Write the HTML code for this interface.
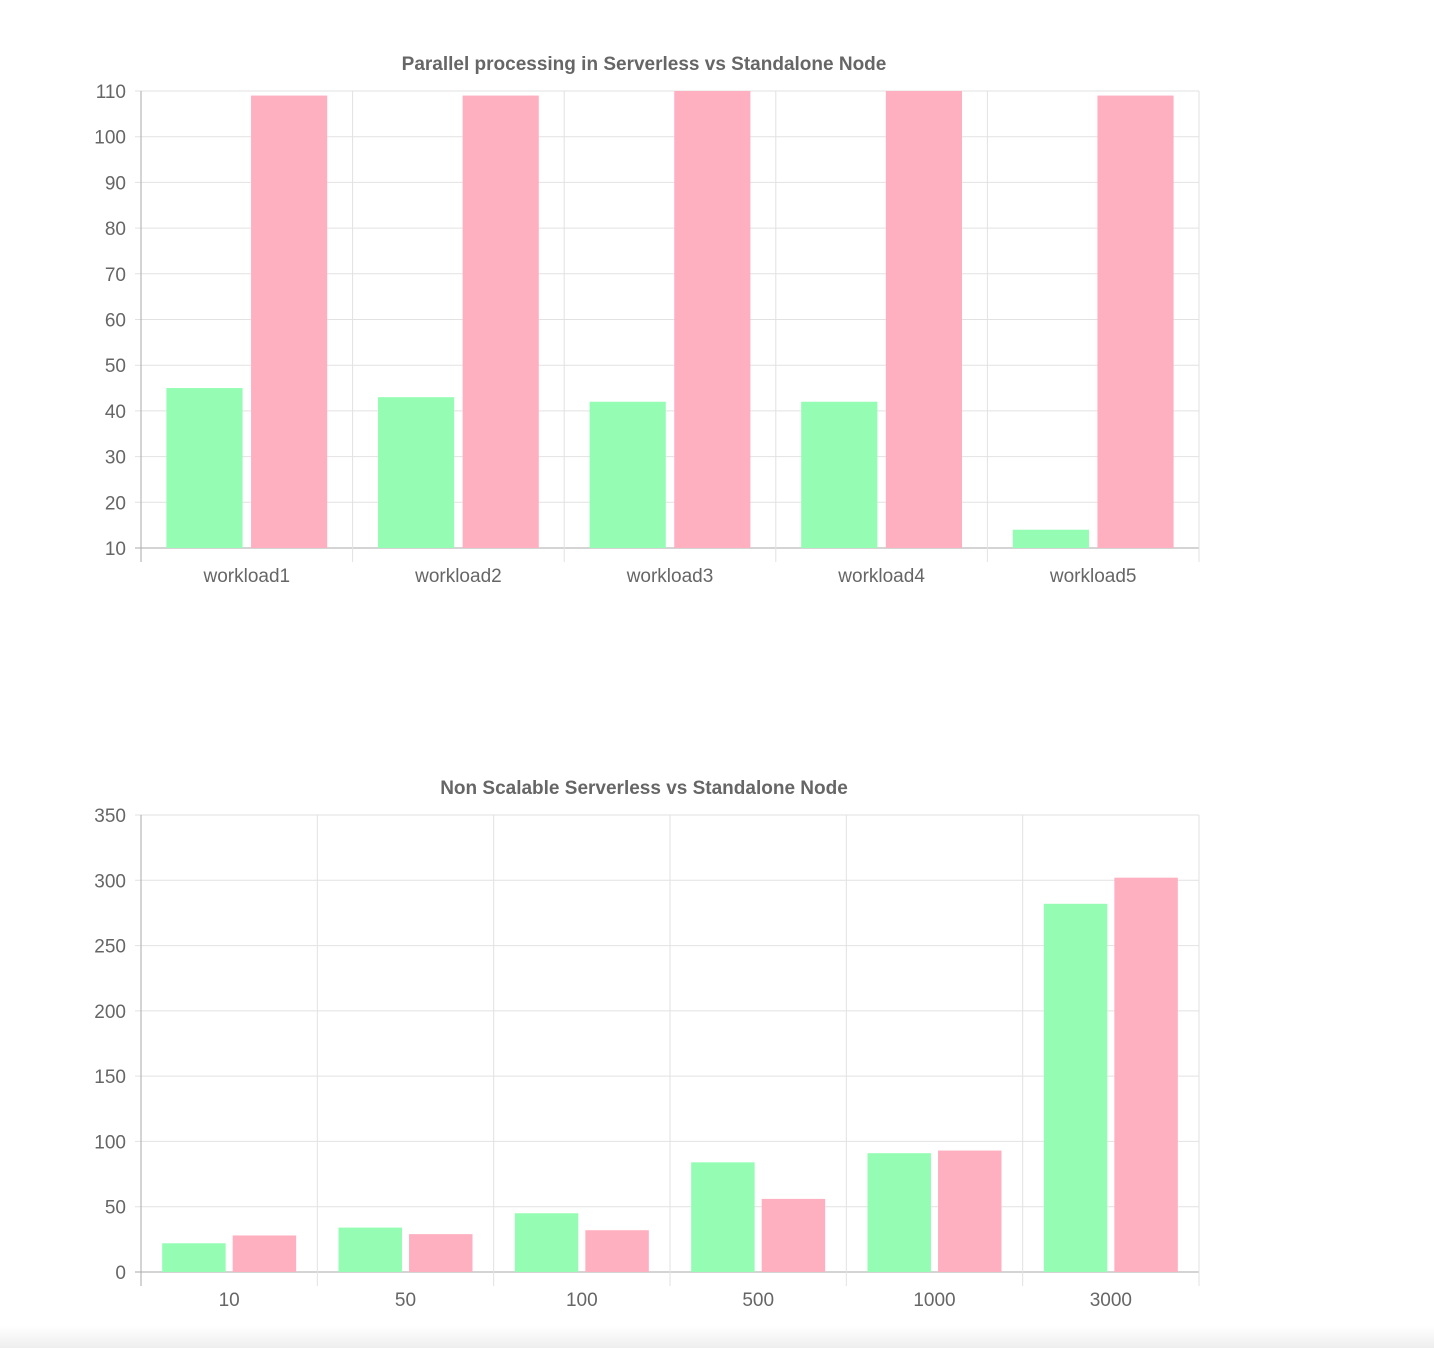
<!DOCTYPE html>
<html><head><meta charset="utf-8">
<style>
html,body{margin:0;padding:0;background:#fff;}
body{width:1434px;height:1348px;overflow:hidden;position:relative;font-family:"Liberation Sans",Helvetica,Arial,sans-serif;}
#fade{position:absolute;left:0;top:1326px;width:1434px;height:22px;background:linear-gradient(#fff,#eeeeee);}
</style></head>
<body>
<svg id="svg" width="1434" height="1348" style="position:absolute;left:0;top:0"></svg>
<div id="fade"></div>
<script>
const cats1 = ["workload1","workload2","workload3","workload4","workload5"];
const serverless1 = [45,43,42,42,14];
const standalone1 = [109,109,110,110,109];
const ticks1 = [10,20,30,40,50,60,70,80,90,100,110];

const cats2 = ["10","50","100","500","1000","3000"];
const serverless2 = [22,34,45,84,91,282];
const standalone2 = [28,29,32,56,93,302];
const ticks2 = [0,50,100,150,200,250,300,350];

const NS="http://www.w3.org/2000/svg";
const svg=document.getElementById('svg');
function mk(t,a,p){const e=document.createElementNS(NS,t);for(const k in a)e.setAttribute(k,a[k]);(p||svg).appendChild(e);return e;}

function chart(name,title,titleY,top,bottom,cats,s1,s2,ticks){
  const g=mk('g',{});
  
  
  const L=141,R=1199;
  const mn=ticks[0],mx=ticks[ticks.length-1];
  const y=v=>bottom-(v-mn)/(mx-mn)*(bottom-top);
  const cw=(R-L)/cats.length;
  const t=mk('text',{x:644,y:titleY,'text-anchor':'middle','font-size':19,'font-weight':'bold',fill:'#666'},g);
  t.textContent=title;
  
  
  ticks.forEach(v=>{
    const ln=mk('line',{x1:L-6,x2:R,y1:y(v),y2:y(v),stroke:v===mn?'#aaa':'#e2e2e2','stroke-width':1},g);
    
    
    const tx=mk('text',{x:126,y:y(v)+7,'text-anchor':'end','font-size':19,fill:'#666'},g);
    tx.textContent=v;
    
    
  });
  for(let i=0;i<=cats.length;i++){
    const x=L+i*cw;
    const ln=mk('line',{x1:x,x2:x,y1:top,y2:bottom+14,stroke:i===0?'#aaa':'#e2e2e2','stroke-width':1},g);
    
    
  }
  const bw=cw*0.8/2*0.9;
  cats.forEach((c,i)=>{
    const cx=L+cw*(i+0.5);
    const b1x=cx-cw*0.2-bw/2, b2x=cx+cw*0.2-bw/2;
    const r1=mk('rect',{x:b1x,y:y(s1[i]),width:bw,height:bottom-y(s1[i]),fill:'#94fdb3'},g);
    
    
    const r2=mk('rect',{x:b2x,y:y(s2[i]),width:bw,height:bottom-y(s2[i]),fill:'#ffb0c0'},g);
    
    
    const tx=mk('text',{x:cx,y:bottom+34,'text-anchor':'middle','font-size':19,fill:'#666'},g);
    tx.textContent=c;
    
    
  });
}
chart('parallel-chart','Parallel processing in Serverless vs Standalone Node',70,91,548,cats1,serverless1,standalone1,ticks1);
chart('non-scalable-chart','Non Scalable Serverless vs Standalone Node',794,815,1272,cats2,serverless2,standalone2,ticks2);
</script>
</body></html>
